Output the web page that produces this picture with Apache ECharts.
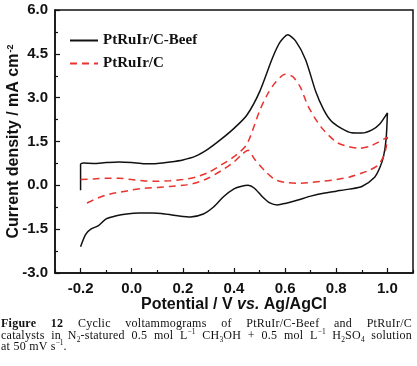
<!doctype html>
<html lang="en">
	<head>
		<meta charset="UTF-8">
		<title>CV</title>
		<script src="https://cdn.jsdelivr.net/npm/echarts@6/dist/echarts.min.js"></script>
		<style>
			body { margin: 0; background: #fff; }
			#main { position: absolute; left: 0; top: 0; width: 417px; height: 366px; }
			#cap { position: absolute; left: 1px; top: 318px; width: 411px; font-family: "Liberation Serif", serif; font-size: 12px; letter-spacing: 0.25px; line-height: 11.5px; color: #111; }
			#cap .j { text-align: justify; text-align-last: justify; white-space: nowrap; }
			#cap sub, #cap sup { font-size: 7.5px; line-height: 0; letter-spacing: 0; }
		</style>
	</head>
	<body>
		<div id="main"></div>
		<div id="cap">
			<div class="j"><b>Figure 12</b> Cyclic voltammograms of PtRuIr/C-Beef and PtRuIr/C</div>
			<div class="j">catalysts in N<sub>2</sub>-statured 0.5 mol L<sup>−1</sup> CH<sub>3</sub>OH + 0.5 mol L<sup>−1</sup> H<sub>2</sub>SO<sub>4</sub> solution</div>
			<div>at 50 mV s<sup>−1</sup>.</div>
		</div>
		<script>
			// axis ticks
			let xMajor = [-0.2, 0.0, 0.2, 0.4, 0.6, 0.8, 1.0]
			let xMinor = [-0.3, -0.1, 0.1, 0.3, 0.5, 0.7, 0.9, 1.1]

			// PtRuIr/C-Beef, forward (anodic) and reverse scan
			let beefForward = [
				[-0.2, -0.17], [-0.2, 0.72], [-0.19, 0.76], [-0.15, 0.75], [-0.1, 0.78], [-0.05, 0.8],
				[0.0, 0.78], [0.05, 0.74], [0.1, 0.75], [0.15, 0.8], [0.2, 0.87], [0.25, 1.0],
				[0.3, 1.25], [0.35, 1.58], [0.4, 1.95], [0.45, 2.4], [0.5, 3.2], [0.55, 4.35],
				[0.58, 4.9], [0.61, 5.15], [0.64, 4.95], [0.68, 4.3], [0.72, 3.2], [0.75, 2.6],
				[0.78, 2.2], [0.82, 1.95], [0.86, 1.8], [0.9, 1.79], [0.94, 1.9], [0.97, 2.1], [1.0, 2.48]
			]
			let beefReverse = [
				[0.995, 1.6], [0.985, 1.0], [0.97, 0.6], [0.95, 0.28], [0.9, -0.04], [0.85, -0.13],
				[0.8, -0.2], [0.75, -0.27], [0.7, -0.37], [0.65, -0.5], [0.6, -0.62], [0.57, -0.67],
				[0.54, -0.6], [0.51, -0.38], [0.48, -0.1], [0.455, 0.0], [0.43, -0.03], [0.4, -0.12],
				[0.36, -0.38], [0.32, -0.74], [0.28, -0.98], [0.23, -1.08], [0.18, -1.04], [0.13, -0.98],
				[0.08, -0.95], [0.03, -0.95], [-0.02, -0.98], [-0.06, -1.04], [-0.1, -1.15], [-0.13, -1.38],
				[-0.16, -1.5], [-0.18, -1.68], [-0.2, -2.1]
			]

			// PtRuIr/C, forward and reverse scan
			let ptForward = [
				[-0.2, 0.2], [-0.15, 0.22], [-0.1, 0.24], [-0.05, 0.24], [0.0, 0.2], [0.05, 0.15],
				[0.1, 0.14], [0.15, 0.16], [0.2, 0.2], [0.25, 0.28], [0.3, 0.44], [0.35, 0.7],
				[0.4, 0.98], [0.45, 1.4], [0.5, 2.55], [0.53, 3.1], [0.56, 3.5], [0.6, 3.8],
				[0.63, 3.72], [0.66, 3.35], [0.69, 2.7], [0.74, 2.0], [0.8, 1.48], [0.85, 1.32],
				[0.89, 1.27], [0.93, 1.33], [0.965, 1.48], [1.0, 1.65]
			]
			let ptReverse = [
				[0.995, 1.3], [0.985, 1.0], [0.965, 0.7], [0.93, 0.52], [0.9, 0.42], [0.85, 0.28],
				[0.8, 0.2], [0.75, 0.14], [0.7, 0.1], [0.65, 0.07], [0.6, 0.1], [0.56, 0.2],
				[0.52, 0.5], [0.48, 0.9], [0.455, 1.2], [0.43, 1.05], [0.4, 0.8], [0.35, 0.5],
				[0.3, 0.25], [0.25, 0.08], [0.2, 0.0], [0.15, -0.04], [0.1, -0.07], [0.05, -0.1],
				[0.0, -0.16], [-0.05, -0.24], [-0.1, -0.33], [-0.15, -0.5], [-0.19, -0.67]
			]

			let mCharts = echarts.init(document.getElementById('main'))
			let sans = '"Liberation Sans", Arial, sans-serif'
			let labelStyle = { color: '#111', fontFamily: sans, fontWeight: 'bold', fontSize: 15 }
			let option = {
				animation: false,
				grid: {
					left: 55, top: 10, width: 358, height: 263,
					outerBoundsMode: 'none',
					show: true, borderColor: '#111', borderWidth: 1.5
				},
				legend: {
					left: 64, top: 28, orient: 'vertical',
					itemWidth: 28, itemHeight: 14, itemGap: 8,
					itemStyle: { opacity: 0 },
					textStyle: { fontFamily: '"Liberation Serif", serif', fontWeight: 'bold', fontSize: 15, color: '#111' },
					data: ['PtRuIr/C-Beef', 'PtRuIr/C']
				},
				xAxis: [{
					type: 'value', min: -0.3, max: 1.1,
					name: 'Potential / V {i|vs.} Ag/AgCl',
					nameLocation: 'middle', nameGap: 24, nameMoveOverlap: false,
					nameTextStyle: {
						fontFamily: sans, fontWeight: 'bold', fontSize: 16, color: '#111',
						rich: { i: { fontFamily: sans, fontWeight: 'bold', fontStyle: 'italic', fontSize: 16, color: '#111' } }
					},
					splitLine: { show: false },
					axisLine: { onZero: false, lineStyle: { color: '#111', width: 1.5 } },
					axisTick: { inside: true, length: 5, customValues: xMajor, lineStyle: { color: '#111', width: 1.2 } },
					axisLabel: Object.assign({ margin: 8, customValues: xMajor, formatter: (v) => v.toFixed(1) }, labelStyle)
				}, {
					type: 'value', min: -0.3, max: 1.1, position: 'bottom',
					splitLine: { show: false },
					axisLine: { show: false, onZero: false },
					axisTick: { inside: true, length: 3, customValues: xMinor, lineStyle: { color: '#111', width: 1.2 } },
					axisLabel: { show: false }
				}],
				yAxis: {
					type: 'value', min: -3, max: 6, interval: 1.5,
					name: 'Current density / mA cm{s|-2}',
					nameLocation: 'middle', nameGap: 33, nameMoveOverlap: false,
					nameTextStyle: {
						fontFamily: sans, fontWeight: 'bold', fontSize: 16, color: '#111',
						rich: { s: { fontFamily: sans, fontSize: 9, color: '#111', verticalAlign: 'top', padding: [0, 0, 6, 1] } }
					},
					splitLine: { show: false },
					axisLine: { onZero: false, lineStyle: { color: '#111', width: 1.5 } },
					axisTick: { inside: true, length: 5, lineStyle: { color: '#111', width: 1.2 } },
					minorTick: { show: true, splitNumber: 2, length: 3, lineStyle: { color: '#111', width: 1.2 } },
					minorSplitLine: { show: false },
					axisLabel: Object.assign({ margin: 7, formatter: (v) => v.toFixed(1) }, labelStyle)
				},
				series: [{
					name: 'PtRuIr/C-Beef',
					type: 'line',
					symbol: 'none',
					smooth: 0.25,
					lineStyle: { color: '#111', width: 1.5 },
					itemStyle: { color: '#111' },
					data: beefForward.concat(beefReverse)
				}, {
					name: 'PtRuIr/C',
					type: 'line',
					symbol: 'none',
					smooth: 0.25,
					lineStyle: { color: '#e8332e', width: 1.5, type: [7, 5] },
					itemStyle: { color: '#e8332e' },
					data: ptForward.concat(ptReverse)
				}]
			}
			mCharts.setOption(option)
		</script>
	</body>
</html>
